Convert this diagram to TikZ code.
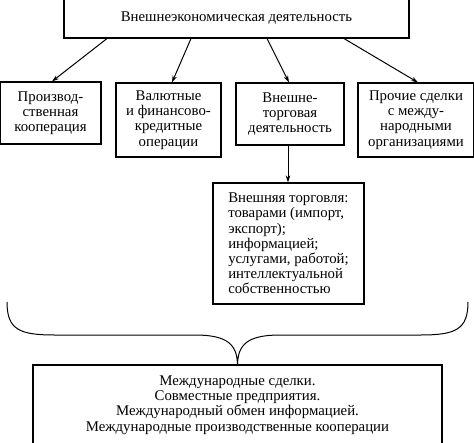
\documentclass[tikz,border=0pt]{standalone}
\usepackage{fontspec}
\setmainfont{Liberation Serif}
\usetikzlibrary{arrows.meta}
\begin{document}
\begin{tikzpicture}[x=1pt,y=-1pt]
\tikzstyle{size}=[inner sep=0pt,anchor=center]

\tikzstyle{block}=[size,rectangle,draw=black,line width=1.1pt,align=center,font=\fontsize{14.8}{15.2}\selectfont]
\tikzstyle{link}=[line width=1pt,-{Stealth[length=7pt,width=4.5pt]}]

\useasboundingbox (0,0) rectangle (474,442);

\node [block,minimum width=345pt,minimum height=39pt] at (236.5,18.5) (ved) {Внешнеэкономическая деятельность};

\node [block,minimum width=101pt,minimum height=62pt] at (50.5,113) (prod) {Производ-\\ственная\\кооперация};
\node [block,minimum width=105pt,minimum height=74pt] at (168.5,120) (fin) {Валютные\\и финансово-\\кредитные\\операции};
\node [block,minimum width=108pt,minimum height=62pt] at (290,114) (trade) {Внешне-\\торговая\\деятельность};
\node [block,minimum width=116pt,minimum height=74pt] at (416,120) (other) {Прочие сделки\\с между-\\народными\\организациями};

\node [block,align=left,minimum width=151pt,minimum height=121pt] at (288.5,243.5) (ext) {Внешняя торговля:\\товарами (импорт,\\экспорт);\\информацией;\\услугами, работой;\\интеллектуальной\\собственностью};

\node [block,minimum width=409pt,minimum height=80pt] at (237.5,405) (intl) {Международные сделки.\\Совместные предприятия.\\Международный обмен информацией.\\Международные производственные кооперации};

% arrows
\draw [link] ([xshift=-129.5pt]ved.south) -- ([xshift=1.5pt]prod.north);
\draw [link] ([xshift=-45.5pt]ved.south) -- ([xshift=3.5pt]fin.north);
\draw [link] ([xshift=30.5pt]ved.south) -- ([xshift=-1pt]trade.north);
\draw [link] ([xshift=107.5pt]ved.south) -- ([xshift=2pt]other.north);
\draw [link] ([xshift=-2pt]trade.south) -- ([xshift=-0.5pt]ext.north);

% brace
\draw [line width=1pt] (7,302) .. controls (7,330) and (20,335) .. (55,335)
  -- (195,335) .. controls (228,335) and (237,345) .. (intl.north)
  .. controls (238,345) and (247,335) .. (280,335)
  -- (420,335) .. controls (455,335) and (468,330) .. (468,302);
\end{tikzpicture}
\end{document}
